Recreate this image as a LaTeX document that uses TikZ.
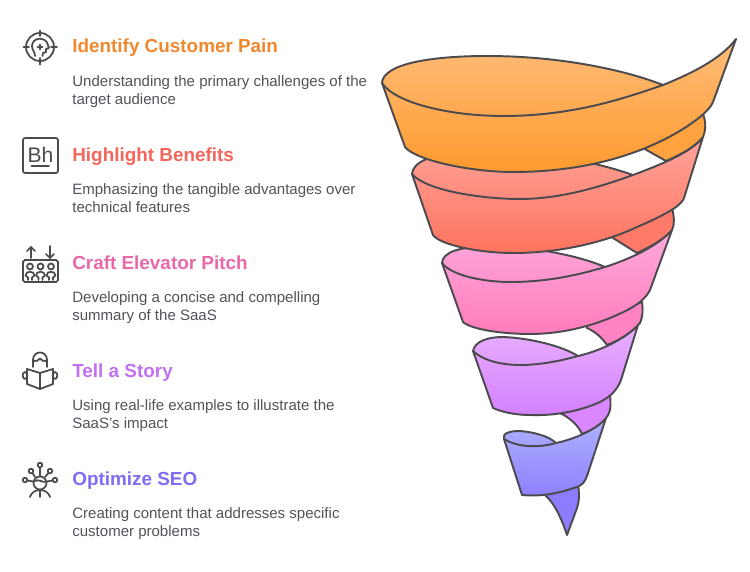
\documentclass[tikz,border=0pt]{standalone}
\usepackage{fontspec}
\setmainfont{Liberation Sans}
\definecolor{inkgray}{HTML}{4A4A4F}
\definecolor{bodygray}{HTML}{55505A}
\definecolor{orangehead}{HTML}{F0892E}
\definecolor{salmonhead}{HTML}{F4655A}
\definecolor{pinkhead}{HTML}{E868A8}
\definecolor{violethead}{HTML}{C070F0}
\definecolor{bluehead}{HTML}{7E6CF5}
\definecolor{orangetop}{HTML}{FFBD7A}
\definecolor{orangelow}{HTML}{FF9A2E}
\definecolor{orangetail}{HTML}{FFA23F}
\definecolor{salmontop}{HTML}{FFA49C}
\definecolor{salmonlow}{HTML}{FF745E}
\definecolor{salmontail}{HTML}{FF7A68}
\definecolor{pinktop}{HTML}{FFAADD}
\definecolor{pinklow}{HTML}{FF7CBC}
\definecolor{pinktail}{HTML}{FF82C2}
\definecolor{violettop}{HTML}{E8B0FF}
\definecolor{violetlow}{HTML}{D480FF}
\definecolor{violettail}{HTML}{D986FF}
\definecolor{bluetop}{HTML}{AFB2FF}
\definecolor{bluelow}{HTML}{8E80FF}
\definecolor{bluetail}{HTML}{8E7CFF}
\tikzset{
	band/.style 2 args={draw=inkgray, line width=1.1pt, line join=round, top color=#1, bottom color=#2},
	rim/.style={draw=inkgray, line width=1.1pt, line cap=round},
	icon/.style={draw=inkgray, line width=1pt, line cap=round, line join=round},
	headtext/.style={anchor=base west, inner sep=0pt, font=\fontsize{10.75pt}{12pt}\selectfont\bfseries},
	desctext/.style={anchor=north west, inner sep=0pt, align=left, text=bodygray, font=\fontsize{8.55pt}{10.2pt}\selectfont},
}

\begin{document}
\begin{tikzpicture}[x=0.02cm, y=-0.02cm]
	\useasboundingbox (0, 0) rectangle (750, 571);

	%%%%% TEXTS %%%%%
	\node[headtext, text=orangehead] (painhead) at (72, 53) {Identify Customer Pain};
	\node[desctext] (paindesc) at (72, 75) {Understanding the primary challenges of the\\target audience};
	\node[headtext, text=salmonhead] (benefithead) at (72, 161) {Highlight Benefits};
	\node[desctext] (benefitdesc) at (72, 183) {Emphasizing the tangible advantages over\\technical features};
	\node[headtext, text=pinkhead] (pitchhead) at (72, 269) {Craft Elevator Pitch};
	\node[desctext] (pitchdesc) at (72, 291) {Developing a concise and compelling\\summary of the SaaS};
	\node[headtext, text=violethead] (storyhead) at (72, 377) {Tell a Story};
	\node[desctext] (storydesc) at (72, 399) {Using real-life examples to illustrate the\\SaaS's impact};
	\node[headtext, text=bluehead] (seohead) at (72, 485) {Optimize SEO};
	\node[desctext] (seodesc) at (72, 507) {Creating content that addresses specific\\customer problems};

	%%%%% FUNNEL, BOTTOM UP %%%%%
	\draw[band={bluetail}{bluetail}] (546, 490) -- (546, 496) .. controls (554, 503) and (561, 517) .. (567, 535) -- (577, 508) .. controls (580, 498) and (579, 492) .. (578, 484) -- cycle;
	\draw[band={bluetop}{bluelow}] (504, 439) .. controls (502, 433) and (510, 431) .. (520, 431) .. controls (533, 432) and (549, 436) .. (556, 443) .. controls (575, 439) and (595, 430) .. (606, 418) -- (587, 476) .. controls (585, 482) and (582, 485) .. (577, 487) .. controls (562, 492) and (545, 497) .. (522, 495) -- cycle;
	\draw[rim] (504, 439) .. controls (515, 446) and (535, 449) .. (556, 443);

	\draw[band={violettail}{violettail}] (560, 405) -- (560, 413) .. controls (570, 418) and (578, 425) .. (582, 434) .. controls (592, 430) and (600, 425) .. (606, 418) .. controls (611, 412) and (611, 405) .. (610, 394) -- cycle;
	\draw[band={violettop}{violetlow}] (473, 351) .. controls (475, 341) and (488, 337) .. (503, 337) .. controls (530, 338) and (562, 346) .. (578, 356) .. controls (600, 351) and (625, 339) .. (638, 325) -- (621, 380) .. controls (618, 388) and (612, 396) .. (600, 402) .. controls (580, 411) and (555, 416) .. (530, 415) .. controls (515, 415) and (502, 412) .. (493, 408) -- cycle;
	\draw[rim] (473, 351) .. controls (485, 362) and (505, 365) .. (520, 365) .. controls (540, 365) and (560, 361) .. (578, 356);

	\draw[band={pinktail}{pinktail}] (587, 320) -- (587, 328) .. controls (596, 332) and (602, 338) .. (607, 345) .. controls (620, 340) and (632, 332) .. (640, 323) .. controls (643, 316) and (643, 310) .. (642, 302) -- cycle;
	\draw[band={pinktop}{pinklow}] (442, 263) .. controls (443, 252) and (458, 247) .. (490, 246) .. controls (525, 246) and (575, 254) .. (605, 267) .. controls (630, 259) and (658, 246) .. (672, 230) -- (650, 290) .. controls (645, 300) and (635, 307) .. (617, 315) .. controls (590, 327) and (560, 334) .. (530, 334) .. controls (505, 334) and (472, 330) .. (463, 322) -- cycle;
	\draw[rim] (442, 263) .. controls (452, 276) and (485, 282) .. (510, 282) .. controls (545, 282) and (575, 276) .. (605, 267);

	\draw[band={salmontail}{salmontail}] (613, 230) -- (613, 238) -- (637, 253) .. controls (650, 247) and (663, 240) .. (672, 230) .. controls (675, 224) and (674, 216) .. (672, 208) -- cycle;
	\draw[band={salmontop}{salmonlow}] (412, 174) .. controls (413, 162) and (430, 154) .. (470, 151) .. controls (530, 149) and (590, 160) .. (633, 175) .. controls (660, 165) and (692, 152) .. (703, 137) -- (684, 198) .. controls (682, 204) and (672, 212) .. (637, 227) .. controls (610, 240) and (565, 253) .. (513, 253) .. controls (480, 253) and (440, 245) .. (433, 235) -- cycle;
	\draw[rim] (412, 174) .. controls (425, 190) and (480, 199) .. (520, 199) .. controls (560, 199) and (600, 187) .. (633, 175);

	\draw[band={orangetail}{orangetail}] (643, 140) -- (643, 148) -- (666, 161) .. controls (680, 155) and (695, 147) .. (703, 137) .. controls (706, 130) and (706, 122) .. (703, 114) -- cycle;
	\draw[band={orangetop}{orangelow}] (382, 83) .. controls (383, 64) and (430, 56) .. (487, 56) .. controls (560, 56) and (625, 70) .. (663, 85) .. controls (690, 74) and (720, 60) .. (736, 39) -- (713, 102) .. controls (711, 107) and (706, 112) .. (700, 117) .. controls (680, 133) and (620, 172) .. (513, 172) .. controls (470, 172) and (415, 160) .. (405, 147) -- cycle;
	\draw[rim] (382, 83) .. controls (395, 103) and (450, 116) .. (503, 116) .. controls (570, 116) and (620, 100) .. (663, 85);

	%%%%% ICONS %%%%%
	% target with head
	\draw[icon] (40, 47) circle (14);
	\draw[icon] (40, 30.5) -- (40, 36);
	\draw[icon] (40, 58) -- (40, 64.5);
	\draw[icon] (23.5, 47) -- (29, 47);
	\draw[icon] (51, 47) -- (57, 47);
	\draw[icon] (35, 56) .. controls (35, 52) and (32, 50) .. (32, 46) .. controls (32, 37) and (46, 36) .. (48, 45) -- (49, 48) -- (46, 49) -- (46, 52) -- (43, 53) -- (42.5, 56);
	\draw[icon] (37.5, 47) -- (42.5, 47);
	\draw[icon] (40, 44.5) -- (40, 49.5);

	% box with letters
	\draw[icon, rounded corners=1.2pt] (23, 138) rectangle (58, 173);
	\node[inner sep=0pt, text=inkgray, font=\fontsize{12pt}{14pt}\selectfont] (behance) at (40.5, 155) {Bh};
	\draw[icon] (31.5, 166) -- (49, 166);

	% lift with people
	\draw[icon] (31, 258) -- (31, 247);
	\draw[icon] (27, 251) -- (31, 247) -- (35, 251);
	\draw[icon] (50, 246) -- (50, 258);
	\draw[icon] (46, 254) -- (50, 258) -- (54, 254);
	\draw[icon, rounded corners=1pt] (23, 260) rectangle (58, 282);
	\foreach \px in {30, 40.5, 51} {
		\draw[icon] (\px, 266.5) circle (3);
		\draw[icon] (\px-2, 280) -- (\px-2, 277.5) -- (\px-4.5, 275.5) .. controls (\px-4.5, 270.5) and (\px+4.5, 270.5) .. (\px+4.5, 275.5) -- (\px+2, 277.5) -- (\px+2, 280);
	}

	% reader
	\draw[icon] (33, 367) -- (33, 360) .. controls (33, 350) and (47, 350) .. (47, 360) -- (47, 367);
	\draw[icon] (34, 361) .. controls (36, 362) and (39, 360) .. (40, 358.5) .. controls (41, 360) and (44, 362) .. (46, 361);
	\draw[icon] (27, 369) -- (40, 373) -- (53, 369);
	\draw[icon] (27, 369) -- (27, 384) -- (40, 389) -- (53, 384) -- (53, 369);
	\draw[icon] (40, 373) -- (40, 389);
	\draw[icon] (25, 375.5) ellipse (2.3 and 3.5);
	\draw[icon] (55, 375.5) ellipse (2.3 and 3.5);

	% person with links
	\draw[icon] (40, 483) circle (6.5);
	\draw[icon] (35, 481) .. controls (38, 479) and (42, 482) .. (45, 482);
	\draw[icon] (30, 497) .. controls (31, 493) and (35, 490) .. (40, 490) .. controls (45, 490) and (49, 493) .. (50, 497);
	\draw[icon] (40, 490) -- (40, 497);
	\draw[icon] (40, 465) circle (2.3);
	\draw[icon] (40, 467.5) -- (40, 476);
	\draw[icon] (31, 471) circle (2.3);
	\draw[icon] (32.5, 473) -- (35, 477);
	\draw[icon] (50, 471) circle (2.3);
	\draw[icon] (48.5, 473) -- (45, 477);
	\draw[icon] (25, 480) circle (2.3);
	\draw[icon] (27.5, 480.5) -- (33, 481.5);
	\draw[icon] (55, 480) circle (2.3);
	\draw[icon] (52.5, 480.5) -- (47, 481.5);
\end{tikzpicture}
\end{document}
